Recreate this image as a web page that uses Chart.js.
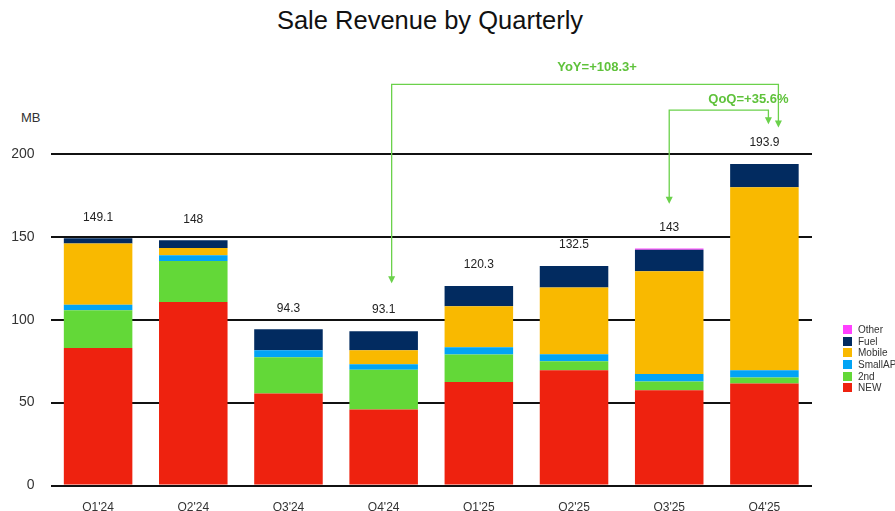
<!DOCTYPE html>
<html>
<head>
<meta charset="utf-8">
<title>Sale Revenue by Quarterly</title>
<script src="https://cdn.jsdelivr.net/npm/chart.js@4.4.1/dist/chart.umd.min.js"></script>
<style>
  body { margin: 0; width: 895px; height: 511px; overflow: hidden; background: #fff;
         font-family: "Liberation Sans", Arial, sans-serif; position: relative; }
  #wrap { position: absolute; left: 0; top: 0; width: 895px; height: 511px; }
  #title { position: absolute; left: 0; width: 860px; top: 6px; text-align: center; font-size: 25.5px; color: #111; }
  #unit { position: absolute; left: 21px; top: 110px; font-size: 13px; color: #333; }
  #legend { position: absolute; left: 843px; top: 324px; font-size: 10px; color: #333; }
  .item { display: flex; align-items: center; height: 11.6px; white-space: nowrap; }
  .box { width: 9px; height: 9px; margin-right: 6px; flex: none; }
</style>
</head>
<body>
<div id="title">Sale Revenue by Quarterly</div>
<div id="unit">MB</div>
<div id="wrap"><canvas id="chart"></canvas></div>
<div id="legend"></div>
<script>
// values (MB)
var quarters = ["Q1'24", "Q2'24", "Q3'24", "Q4'24", "Q1'25", "Q2'25", "Q3'25", "Q4'25"];
var newVals      = [83.0, 110.7, 55.5, 45.9, 62.5, 69.6, 57.5, 61.6];
var secondVals   = [22.8, 24.7, 21.9, 23.9, 16.5, 5.4, 5.3, 3.6];
var smallAppVals = [3.2, 3.5, 4.2, 3.4, 4.4, 4.2, 4.4, 4.4];
var mobileVals   = [37.0, 4.4, 0, 8.4, 24.7, 40.2, 62.0, 110.4];
var fuelVals     = [3.1, 4.7, 12.7, 11.5, 12.2, 13.1, 13.1, 13.9];
var otherVals    = [0, 0, 0, 0, 0, 0, 0.7, 0];
var totalLabels  = ['149.1', '148', '94.3', '93.1', '120.3', '132.5', '143', '193.9'];
var yTicks = [0, 50, 100, 150, 200];

var yoyText = 'YoY=+108.3+';
var qoqText = 'QoQ=+35.6%';

var green = '#6bd14b';
var greenText = '#5fc23b';

function stackTop(i) {
    return newVals[i] + secondVals[i] + smallAppVals[i] + mobileVals[i] + fuelVals[i] + otherVals[i];
}

function arrowHead(ctx, x, tip) {
    ctx.beginPath();
    ctx.moveTo(x - 3.5, tip - 7);
    ctx.lineTo(x + 3.5, tip - 7);
    ctx.lineTo(x, tip);
    ctx.closePath();
    ctx.fill();
}

// elbow connectors: category index + pixel nudge, heights in axis units
var connectors = [
    { text: yoyText, from: 3, dxFrom: 8, tipFrom: 122, to: 7, dxTo: 14, tipTo: 216, top: 242, textAt: 5, textDx: 23, textY: 252 },
    { text: qoqText, from: 6, dxFrom: 0, tipFrom: 170, to: 7, dxTo: 4, tipTo: 218, top: 226.5, textAt: 7, textDx: -16, textY: 233 }
];

var annotPlugin = {
    id: 'annot',
    afterDatasetsDraw: function (chart) {
        var ctx = chart.ctx;
        var x = chart.scales.x, y = chart.scales.y;
        ctx.save();
        // totals above the stacks
        ctx.font = '12px "Liberation Sans", Arial, sans-serif';
        ctx.fillStyle = '#222';
        ctx.textAlign = 'center';
        ctx.textBaseline = 'middle';
        for (var i = 0; i < quarters.length; i++) {
            ctx.fillText(totalLabels[i], x.getPixelForValue(i), y.getPixelForValue(stackTop(i)) - 21);
        }
        // YoY / QoQ arrows
        ctx.strokeStyle = green;
        ctx.fillStyle = green;
        ctx.lineWidth = 1.3;
        connectors.forEach(function (c) {
            var xa = x.getPixelForValue(c.from) + c.dxFrom;
            var xb = x.getPixelForValue(c.to) + c.dxTo;
            var yt = y.getPixelForValue(c.top);
            var ta = y.getPixelForValue(c.tipFrom);
            var tb = y.getPixelForValue(c.tipTo);
            ctx.beginPath();
            ctx.moveTo(xa, ta - 6);
            ctx.lineTo(xa, yt);
            ctx.lineTo(xb, yt);
            ctx.lineTo(xb, tb - 6);
            ctx.stroke();
            arrowHead(ctx, xa, ta);
            arrowHead(ctx, xb, tb);
        });
        ctx.fillStyle = greenText;
        ctx.font = 'bold 13px "Liberation Sans", Arial, sans-serif';
        connectors.forEach(function (c) {
            ctx.fillText(c.text, x.getPixelForValue(c.textAt) + c.textDx, y.getPixelForValue(c.textY));
        });
        ctx.restore();
    }
};

var ctx = document.getElementById('chart').getContext('2d');
var chart = new Chart(ctx, {
    type: 'bar',
    data: {
        labels: quarters,
        datasets: [
            { label: 'NEW', data: newVals, backgroundColor: '#ee220f' },
            { label: '2nd', data: secondVals, backgroundColor: '#63d838' },
            { label: 'SmallAPP', data: smallAppVals, backgroundColor: '#02a4f5' },
            { label: 'Mobile', data: mobileVals, backgroundColor: '#f9b900' },
            { label: 'Fuel', data: fuelVals, backgroundColor: '#022b60' },
            { label: 'Other', data: otherVals, backgroundColor: '#ff40ff' }
        ]
    },
    options: {
        responsive: true,
        maintainAspectRatio: false,
        animation: false,
        barPercentage: 0.72,
        categoryPercentage: 1,
        layout: { padding: { top: 154, right: 83, bottom: 0, left: 0 } },
        plugins: {
            legend: { display: false },
            tooltip: { enabled: false }
        },
        scales: {
            x: {
                stacked: true,
                grid: { display: false },
                border: { display: false },
                ticks: { color: '#333', font: { size: 12, family: '"Liberation Sans", Arial' }, padding: 7, maxRotation: 0 },
                afterFit: function (s) { s.height = 25.5; }
            },
            y: {
                stacked: true,
                min: 0,
                max: 200,
                afterBuildTicks: function (s) { s.ticks = yTicks.map(function (v) { return { value: v }; }); },
                ticks: { color: '#333', font: { size: 14, family: '"Liberation Sans", Arial' }, padding: 16 },
                grid: { color: '#111', lineWidth: 2, drawTicks: false },
                border: { display: false },
                afterFit: function (s) { s.width = 50.5; }
            }
        }
    },
    plugins: [annotPlugin]
});

// legend on the right, top item is last dataset
var legend = document.getElementById('legend');
chart.data.datasets.slice().reverse().forEach(function (ds) {
    var item = document.createElement('div');
    item.className = 'item';
    var box = document.createElement('span');
    box.className = 'box';
    box.style.background = ds.backgroundColor;
    var txt = document.createElement('span');
    txt.textContent = ds.label;
    item.appendChild(box);
    item.appendChild(txt);
    legend.appendChild(item);
});
</script>
</body>
</html>
